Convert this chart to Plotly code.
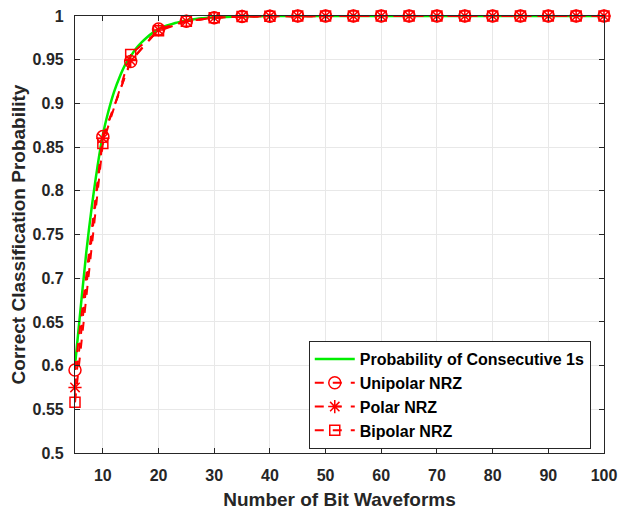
import plotly.graph_objects as go

# Data
n_green = [5, 6, 7, 8, 9, 10, 11, 12, 13, 14, 15, 16, 17, 18, 19, 20, 21, 22, 23, 24, 25,
           26, 27, 28, 29, 30, 35, 40, 45, 50, 55, 60, 65, 70, 75, 80, 85, 90, 95, 100]
p_consec = [0.600, 0.665, 0.728, 0.781, 0.826, 0.864, 0.891, 0.913, 0.930, 0.944, 0.954,
            0.963, 0.970, 0.976, 0.981, 0.985, 0.988, 0.990, 0.992, 0.9935, 0.995,
            0.996, 0.997, 0.9975, 0.998, 0.9985, 0.9995, 0.9999, 1.0, 1.0, 1.0, 1.0, 1.0,
            1.0, 1.0, 1.0, 1.0, 1.0, 1.0, 1.0]

n_bits = [5, 10, 15, 20, 25, 30, 35, 40, 45, 50, 55, 60, 65, 70, 75, 80, 85, 90, 95, 100]
unipolar = [0.595, 0.862, 0.948, 0.985, 0.994, 0.998, 0.9995, 0.9998, 1.0, 1.0, 1.0, 1.0,
            1.0, 1.0, 1.0, 1.0, 1.0, 1.0, 1.0, 1.0]
polar = [0.575, 0.860, 0.949, 0.984, 0.994, 0.998, 0.9995, 0.9998, 1.0, 1.0, 1.0, 1.0,
         1.0, 1.0, 1.0, 1.0, 1.0, 1.0, 1.0, 1.0]
bipolar = [0.558, 0.854, 0.956, 0.983, 0.994, 0.998, 0.9995, 0.9998, 1.0, 1.0, 1.0, 1.0,
           1.0, 1.0, 1.0, 1.0, 1.0, 1.0, 1.0, 1.0]

x_ticks = [10, 20, 30, 40, 50, 60, 70, 80, 90, 100]
y_ticks = [0.5, 0.55, 0.6, 0.65, 0.7, 0.75, 0.8, 0.85, 0.9, 0.95, 1.0]
y_tick_labels = ["0.5", "0.55", "0.6", "0.65", "0.7", "0.75", "0.8", "0.85", "0.9", "0.95", "1"]

RED = "#FF0000"
GREEN = "#00EE00"
FONT = "Liberation Sans"
TXT = "#262626"

fig = go.Figure()
fig.add_trace(go.Scatter(x=n_green, y=p_consec, mode="lines", name="<b>Probability of Consecutive 1s</b>",
                         line=dict(color=GREEN, width=2.5, shape="spline")))
fig.add_trace(go.Scatter(x=n_bits, y=unipolar, mode="lines+markers", name="<b>Unipolar NRZ</b>",
                         cliponaxis=False,
                         line=dict(color=RED, width=2, dash="dash"),
                         marker=dict(symbol="circle-open", size=12, color=RED, line=dict(width=1.5))))
fig.add_trace(go.Scatter(x=n_bits, y=polar, mode="lines+markers", name="<b>Polar NRZ</b>",
                         cliponaxis=False,
                         line=dict(color=RED, width=2, dash="dash"),
                         marker=dict(symbol="asterisk-open", size=11, color=RED, line=dict(width=1.5, color=RED))))
fig.add_trace(go.Scatter(x=n_bits, y=bipolar, mode="lines+markers", name="<b>Bipolar NRZ</b>",
                         cliponaxis=False,
                         line=dict(color=RED, width=2, dash="dash"),
                         marker=dict(symbol="square-open", size=10, color=RED, line=dict(width=1.5))))

fig.update_layout(
    width=619, height=510,
    margin=dict(l=75, r=15, t=16, b=57, autoexpand=False),
    paper_bgcolor="white", plot_bgcolor="white",
    font=dict(family=FONT, size=16, color=TXT),
    showlegend=True,
    legend=dict(x=0.975, y=0.009, xanchor="right", yanchor="bottom",
                bgcolor="white", bordercolor=TXT, borderwidth=1,
                font=dict(family=FONT, size=16, color="black"),
                tracegroupgap=0, itemwidth=40),
)
fig.update_xaxes(range=[5, 100], tickvals=x_ticks, ticktext=[f"<b>{v}</b>" for v in x_ticks],
                 automargin=False,
                 showgrid=True, gridcolor="#E8E8E8", gridwidth=1,
                 showline=True, linecolor=TXT, linewidth=1.2, mirror="ticks",
                 ticks="inside", ticklen=5, tickcolor=TXT,
                 ticklabelstandoff=8,
                 zeroline=False,
                 title=dict(text="<b>Number of Bit Waveforms</b>", font=dict(size=19, family=FONT, color=TXT), standoff=12),
                 tickfont=dict(size=16, family=FONT, color=TXT))
fig.update_yaxes(range=[0.5, 1.0], tickvals=y_ticks, ticktext=[f"<b>{t}</b>" for t in y_tick_labels],
                 automargin=False,
                 showgrid=True, gridcolor="#E8E8E8", gridwidth=1,
                 showline=True, linecolor=TXT, linewidth=1.2, mirror="ticks",
                 ticks="inside", ticklen=5, tickcolor=TXT,
                 ticklabelstandoff=7,
                 zeroline=False,
                 title=dict(text="<b>Correct Classification Probability</b>", font=dict(size=19, family=FONT, color=TXT), standoff=1),
                 tickfont=dict(size=16, family=FONT, color=TXT))

fig.write_html("out.html", config={"displayModeBar": False},
               post_script="document.body.style.margin='0';document.body.style.overflow='hidden';")
